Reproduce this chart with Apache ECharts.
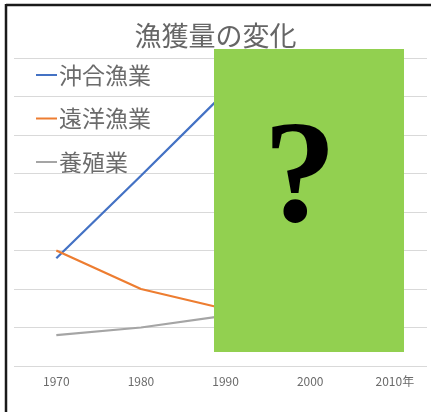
<!DOCTYPE html>
<html>
<head>
<meta charset="utf-8">
<script src="https://cdn.jsdelivr.net/npm/echarts@6/dist/echarts.min.js"></script>
<style>
  html, body { margin: 0; padding: 0; background: #fff; }
  #chart { width: 431px; height: 412px; }
</style>
</head>
<body>
<div id="chart"></div>
<script>
// 年（横軸）
var years = [1970, 1980, 1990, 2000, 2010];
// 系列名
var seriesNames = ['沖合漁業', '遠洋漁業', '養殖業'];
// 各系列の値（2000・2010年は「？」の下に隠れている）
var offshore = [280, 494, 712, 380, 320];
var distant = [300, 200, 148, 90, 60];
var aquaculture = [80, 100, 131, 140, 120];

var colors = ['#4472C4', '#ED7D31', '#A5A5A5'];
var font = 'Noto Sans CJK JP';

function pairs(vals) {
  return years.map(function (y, i) { return [y, vals[i]]; });
}

var chart = echarts.init(document.getElementById('chart'));

var option = {
  animation: false,
  title: {
    text: '漁獲量の変化',
    left: 'center',
    top: 17,
    textStyle: { fontFamily: font, fontSize: 27, fontWeight: 'normal', color: '#666666' }
  },
  legend: {
    orient: 'vertical',
    left: 31,
    top: 55,
    itemGap: 13.5,
    itemWidth: 21,
    itemHeight: 2,
    icon: 'rect',
    textStyle: { fontFamily: font, fontSize: 23, lineHeight: 22, color: '#6b6b6b', padding: [0, 0, 8, -3] },
    data: seriesNames
  },
  grid: { left: 14, right: 4, top: 58, bottom: 46 },
  xAxis: {
    type: 'value',
    min: 1965,
    max: 2013.8,
    interval: 5,
    axisLine: { show: false },
    axisTick: { show: false },
    splitLine: { show: false },
    axisLabel: {
      margin: 9,
      fontFamily: font,
      fontSize: 12,
      color: '#6b6b6b',
      formatter: function (v) {
        if (v < 1970 || v % 10 !== 0) return '';
        return v === 2010 ? '2010年' : String(v);
      }
    }
  },
  yAxis: {
    type: 'value',
    min: 0,
    max: 800,
    interval: 100,
    axisLine: { show: false },
    axisTick: { show: false },
    axisLabel: { show: false },
    splitLine: { lineStyle: { color: '#D9D9D9', width: 1 } }
  },
  series: [
    { name: seriesNames[0], type: 'line', data: pairs(offshore), symbol: 'none',
      itemStyle: { color: colors[0] }, lineStyle: { color: colors[0], width: 2.25 } },
    { name: seriesNames[1], type: 'line', data: pairs(distant), symbol: 'none',
      itemStyle: { color: colors[1] }, lineStyle: { color: colors[1], width: 2.25 } },
    { name: seriesNames[2], type: 'line', data: pairs(aquaculture), symbol: 'none',
      itemStyle: { color: colors[2] }, lineStyle: { color: colors[2], width: 2.25 } }
  ],
  graphic: [
    // 外枠
    { type: 'line', z: 100, shape: { x1: 6, y1: 5, x2: 431, y2: 5 },
      style: { stroke: '#1a1a1a', lineWidth: 2.5 } },
    { type: 'line', z: 100, shape: { x1: 6, y1: 4, x2: 6, y2: 412 },
      style: { stroke: '#1a1a1a', lineWidth: 2.5 } },
    // 緑の箱と「？」
    { type: 'rect', z: 100, shape: { x: 214, y: 49, width: 190, height: 303 },
      style: { fill: '#92D050' } },
    { type: 'text', z: 101, x: 300, y: 183,
      style: { text: '?', fill: '#000', font: 'bold 146px "Liberation Serif"',
        textAlign: 'center', textVerticalAlign: 'middle' } }
  ]
};

chart.setOption(option);
</script>
</body>
</html>
